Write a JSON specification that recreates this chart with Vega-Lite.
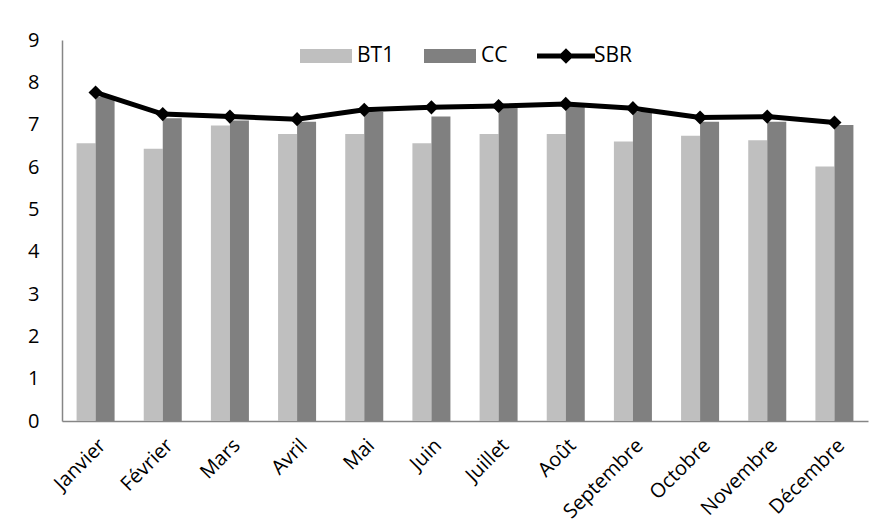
{
  "$schema": "https://vega.github.io/schema/vega-lite/v6.json",
  "width": 806,
  "height": 381,
  "autosize": "none",
  "padding": {"left": 62, "top": 40, "right": 15, "bottom": 108},
  "background": "white",
  "config": {
    "font": "Open Sans",
    "view": {"stroke": null},
    "axis": {"labelColor": "#000000", "labelFontSize": 20, "grid": false, "ticks": false, "domainColor": "#868686", "domainWidth": 1.5, "title": null}
  },
  "data": {
    "values": [
      {"month": "Janvier", "series": "BT1", "value": 6.56},
      {"month": "Février", "series": "BT1", "value": 6.43},
      {"month": "Mars", "series": "BT1", "value": 6.98},
      {"month": "Avril", "series": "BT1", "value": 6.78},
      {"month": "Mai", "series": "BT1", "value": 6.78},
      {"month": "Juin", "series": "BT1", "value": 6.56},
      {"month": "Juillet", "series": "BT1", "value": 6.78},
      {"month": "Août", "series": "BT1", "value": 6.78},
      {"month": "Septembre", "series": "BT1", "value": 6.6},
      {"month": "Octobre", "series": "BT1", "value": 6.74},
      {"month": "Novembre", "series": "BT1", "value": 6.63},
      {"month": "Décembre", "series": "BT1", "value": 6.01},
      {"month": "Janvier", "series": "CC", "value": 7.66},
      {"month": "Février", "series": "CC", "value": 7.15},
      {"month": "Mars", "series": "CC", "value": 7.1},
      {"month": "Avril", "series": "CC", "value": 7.07},
      {"month": "Mai", "series": "CC", "value": 7.3},
      {"month": "Juin", "series": "CC", "value": 7.19},
      {"month": "Juillet", "series": "CC", "value": 7.4},
      {"month": "Août", "series": "CC", "value": 7.45},
      {"month": "Septembre", "series": "CC", "value": 7.3},
      {"month": "Octobre", "series": "CC", "value": 7.07},
      {"month": "Novembre", "series": "CC", "value": 7.07},
      {"month": "Décembre", "series": "CC", "value": 6.99},
      {"month": "Janvier", "series": "SBR", "value": 7.76},
      {"month": "Février", "series": "SBR", "value": 7.25},
      {"month": "Mars", "series": "SBR", "value": 7.19},
      {"month": "Avril", "series": "SBR", "value": 7.13},
      {"month": "Mai", "series": "SBR", "value": 7.35},
      {"month": "Juin", "series": "SBR", "value": 7.41},
      {"month": "Juillet", "series": "SBR", "value": 7.44},
      {"month": "Août", "series": "SBR", "value": 7.49},
      {"month": "Septembre", "series": "SBR", "value": 7.39},
      {"month": "Octobre", "series": "SBR", "value": 7.17},
      {"month": "Novembre", "series": "SBR", "value": 7.19},
      {"month": "Décembre", "series": "SBR", "value": 7.05}
    ]
  },
  "encoding": {
    "x": {
      "field": "month",
      "type": "nominal",
      "sort": ["Janvier", "Février", "Mars", "Avril", "Mai", "Juin", "Juillet", "Août", "Septembre", "Octobre", "Novembre", "Décembre"],
      "scale": {"paddingInner": 0.434, "paddingOuter": 0.217},
      "axis": {"labelAngle": -45, "labelAlign": "right", "labelBaseline": "top", "labelPadding": 14, "labelDx": -9}
    },
    "y": {
      "field": "value",
      "type": "quantitative",
      "scale": {"domain": [0, 9], "nice": false},
      "axis": {"values": [0, 1, 2, 3, 4, 5, 6, 7, 8, 9], "labelPadding": 23}
    }
  },
  "layer": [
    {
      "transform": [{"filter": "datum.series !== 'SBR'"}],
      "mark": {"type": "bar"},
      "encoding": {
        "xOffset": {"field": "series", "type": "nominal", "sort": ["BT1", "CC"], "scale": {"paddingInner": 0, "paddingOuter": 0}},
        "color": {
          "field": "series",
          "type": "nominal",
          "scale": {"domain": ["BT1", "CC", "SBR"], "range": ["#BFBFBF", "#808080", "#000000"]},
          "legend": {
            "orient": "none",
            "legendX": 238,
            "legendY": 3,
            "direction": "horizontal",
            "title": null,
            "padding": 0,
            "labelFontSize": 21,
            "labelColor": "#000000",
            "symbolSize": 676,
            "symbolStrokeWidth": 0,
            "symbolOpacity": 1,
            "labelOffset": 31,
            "columnPadding": 29
          }
        }
      }
    },
    {
      "transform": [{"filter": "datum.series === 'SBR'"}],
      "mark": {"type": "line", "color": "#000000", "strokeWidth": 5},
      "encoding": {}
    },
    {
      "transform": [{"filter": "datum.series === 'SBR'"}],
      "mark": {"type": "point", "filled": true, "opacity": 1, "size": 200, "strokeWidth": 0, "shape": "diamond", "color": "#000000"},
      "encoding": {}
    },
    {
      "description": "Draws no marks; it only supplies the legend symbols: a wide swatch for each bar series and a line with a diamond for SBR.",
      "transform": [{"filter": "datum.series === 'legend-only'"}],
      "mark": {"type": "point", "filled": true, "opacity": 1, "strokeWidth": 0},
      "encoding": {
        "color": {
          "field": "series",
          "type": "nominal",
          "scale": {"domain": ["BT1", "CC", "SBR"], "range": ["#BFBFBF", "#808080", "#000000"]}
        },
        "shape": {
          "field": "series",
          "type": "nominal",
          "scale": {
            "domain": ["BT1", "CC", "SBR"],
            "range": [
              "M-1,-0.54H3V0.54H-1Z",
              "M-1,-0.54H3V0.54H-1Z",
              "M-1,-0.19H3.46V0.19H-1Z M1.23,-0.6L1.83,0L1.23,0.6L0.63,0Z"
            ]
          }
        }
      }
    }
  ]
}
